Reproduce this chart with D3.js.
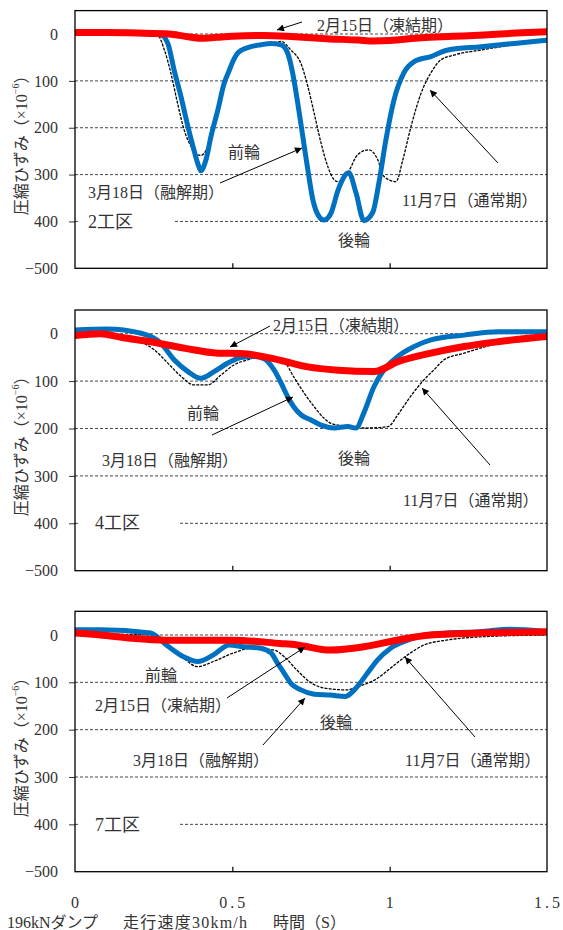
<!DOCTYPE html>
<html>
<head>
<meta charset="utf-8">
<script src="https://cdn.jsdelivr.net/npm/d3@7"></script>
<style>
  html, body { margin: 0; padding: 0; background: #fff; }
  svg text { font-family: "Liberation Serif", "Noto Sans CJK JP", serif; fill: #333; }
</style>
</head>
<body>
<svg id="chart" width="563" height="930"></svg>
<script>
// ---- data: time (s) vs. compressive strain (×10^-6), negative = compression ----
const timeTicks = [0, 0.5, 1, 1.5];
const timeTickLabels = ["0", "0.5", "1", "1.5"];
const strainTicks = [0, -100, -200, -300, -400, -500];
const strainTickLabels = ["0", "100", "200", "300", "400", "\u2212500"];
const seriesNames = ["2月15日（凍結期）", "3月18日（融解期）", "11月7日（通常期）"];
const zoneNames = ["2工区", "4工区", "7工区"];
const wheelNames = ["前輪", "後輪"];

// Zone 2
const zone2Feb = [[0,3],[0.1,3],[0.2,2],[0.3,0],[0.35,-5],[0.4,-9],[0.45,-7],[0.5,-5],[0.6,-3],[0.7,-6],[0.8,-10],[0.9,-13],[0.95,-15],[1.0,-14],[1.1,-8],[1.2,-5],[1.3,-2],[1.4,2],[1.5,5]];
const zone2Mar = [[0,2],[0.1,3],[0.2,1],[0.273,-2],[0.295,-20],[0.315,-77],[0.337,-134],[0.359,-198],[0.375,-240],[0.39,-276],[0.40,-292],[0.416,-269],[0.432,-219],[0.454,-162],[0.474,-105],[0.49,-78],[0.502,-58],[0.521,-38],[0.559,-27],[0.59,-23],[0.623,-20],[0.655,-23],[0.676,-41],[0.692,-84],[0.708,-148],[0.724,-219],[0.74,-290],[0.756,-354],[0.776,-390],[0.791,-397],[0.813,-383],[0.836,-333],[0.87,-296],[0.893,-339],[0.918,-398],[0.946,-381],[0.966,-317],[0.988,-226],[1.014,-140],[1.045,-83],[1.078,-59],[1.131,-48],[1.185,-34],[1.29,-27],[1.396,-20],[1.5,-13]];
const zone2Nov = [[0,0],[0.2,0],[0.263,-3],[0.284,-34],[0.305,-84],[0.326,-148],[0.347,-205],[0.369,-240],[0.39,-258],[0.40,-259],[0.411,-254],[0.426,-233],[0.448,-175],[0.474,-110],[0.496,-75],[0.521,-40],[0.56,-28],[0.6,-22],[0.634,-18],[0.655,-16],[0.686,-34],[0.718,-63],[0.74,-112],[0.76,-169],[0.782,-233],[0.804,-284],[0.82,-308],[0.836,-315],[0.867,-296],[0.899,-257],[0.934,-247],[0.962,-268],[0.982,-304],[1.02,-315],[1.042,-268],[1.068,-197],[1.1,-126],[1.131,-83],[1.163,-55],[1.204,-45],[1.29,-34],[1.396,-23],[1.5,-13]];

// Zone 4
const zone4Feb = [[0,-4],[0.08,0],[0.15,-8],[0.24,-17],[0.35,-31],[0.454,-41],[0.527,-42],[0.633,-53],[0.74,-70],[0.836,-77],[0.95,-80],[1.026,-59],[1.131,-41],[1.237,-27],[1.344,-17],[1.5,-6]];
const zone4Mar = [[0,8],[0.1,10],[0.21,1],[0.273,-20],[0.315,-55],[0.359,-80],[0.40,-94],[0.442,-80],[0.486,-62],[0.527,-50],[0.57,-48],[0.601,-53],[0.633,-77],[0.655,-104],[0.676,-133],[0.695,-154],[0.718,-171],[0.75,-182],[0.782,-193],[0.823,-199],[0.867,-196],[0.893,-199],[0.918,-167],[0.95,-112],[0.982,-76],[1.026,-48],[1.078,-27],[1.131,-13],[1.237,-3],[1.344,4],[1.5,4]];
const zone4Nov = [[0,0],[0.1,0],[0.18,-8],[0.21,-17],[0.252,-34],[0.295,-62],[0.337,-90],[0.378,-108],[0.422,-108],[0.464,-87],[0.505,-66],[0.549,-55],[0.6,-48],[0.665,-60],[0.695,-91],[0.728,-125],[0.76,-154],[0.791,-178],[0.813,-189],[0.867,-196],[0.931,-199],[0.995,-196],[1.026,-171],[1.058,-140],[1.1,-104],[1.141,-76],[1.173,-55],[1.237,-41],[1.344,-20],[1.5,0]];

// Zone 7
const zone7Feb = [[0,4],[0.08,0],[0.18,-7],[0.29,-11],[0.4,-11],[0.5,-11],[0.652,-18],[0.705,-21],[0.811,-32],[0.918,-25],[1.023,-11],[1.13,0],[1.287,4],[1.5,7]];
const zone7Mar = [[0,11],[0.08,11],[0.24,4],[0.29,-21],[0.345,-46],[0.39,-56],[0.44,-42],[0.49,-21],[0.535,-25],[0.59,-28],[0.623,-38],[0.644,-60],[0.665,-81],[0.686,-102],[0.718,-116],[0.76,-125],[0.811,-127],[0.859,-130],[0.897,-109],[0.929,-81],[0.961,-53],[1.003,-28],[1.057,-11],[1.11,0],[1.18,4],[1.287,7],[1.382,12],[1.5,7]];
const zone7Nov = [[0,5],[0.1,2],[0.24,0],[0.29,-18],[0.345,-49],[0.39,-67],[0.44,-56],[0.5,-39],[0.56,-28],[0.633,-32],[0.665,-46],[0.705,-74],[0.75,-101],[0.791,-112],[0.864,-116],[0.9,-109],[0.96,-92],[1.003,-70],[1.057,-42],[1.11,-21],[1.18,-11],[1.287,-4],[1.5,0]];

// ---- layout ----
const svg = d3.select("#chart");
const plotLeft = 75, plotRight = 547;
const x = d3.scaleLinear().domain([0, 1.5]).range([plotLeft, plotRight]);

const panels = [
  { top: 10.6, bottom: 268.3, zone: 0, feb: zone2Feb, mar: zone2Mar, nov: zone2Nov,
    zoneLabel: { x: 88, y: 222, maskTo: 173 },
    texts: [
      { t: seriesNames[0], x: 317, y: 25 },
      { t: wheelNames[0], x: 228, y: 152 },
      { t: seriesNames[1], x: 88, y: 192 },
      { t: wheelNames[1], x: 338, y: 240 },
      { t: seriesNames[2], x: 402, y: 200 }
    ],
    arrows: [[302, 22, 277, 30], [220, 183, 302, 148], [498, 163, 430, 90]] },
  { top: 310, bottom: 570.7, zone: 1, feb: zone4Feb, mar: zone4Mar, nov: zone4Nov,
    zoneLabel: { x: 95, y: 523, maskTo: 180 },
    texts: [
      { t: seriesNames[0], x: 273, y: 325 },
      { t: wheelNames[0], x: 187, y: 413 },
      { t: seriesNames[1], x: 102, y: 460 },
      { t: wheelNames[1], x: 338, y: 458 },
      { t: seriesNames[2], x: 403, y: 500 }
    ],
    arrows: [[270, 326, 230, 347], [212, 435, 293, 397], [490, 465, 422, 388]] },
  { top: 611.3, bottom: 871.7, zone: 2, feb: zone7Feb, mar: zone7Mar, nov: zone7Nov,
    zoneLabel: { x: 95, y: 825, maskTo: 180 },
    texts: [
      { t: wheelNames[0], x: 145, y: 675 },
      { t: seriesNames[0], x: 95, y: 705 },
      { t: seriesNames[1], x: 133, y: 760 },
      { t: wheelNames[1], x: 320, y: 722 },
      { t: seriesNames[2], x: 405, y: 760 }
    ],
    arrows: [[227, 698, 305, 647], [263, 745, 305, 698], [475, 737, 405, 657]] }
];

const defs = svg.append("defs");
defs.append("marker")
  .attr("id", "arrowHead")
  .attr("viewBox", "0 0 10 10")
  .attr("refX", 10).attr("refY", 5)
  .attr("markerWidth", 9).attr("markerHeight", 7)
  .attr("markerUnits", "userSpaceOnUse")
  .attr("orient", "auto")
  .append("path").attr("d", "M0,0 L10,5 L0,10 Z").attr("fill", "#000");

panels.forEach((p, i) => {
  const y = d3.scaleLinear().domain([50, -500]).range([p.top, p.bottom]);
  const g = svg.append("g");

  defs.append("clipPath").attr("id", "clip" + i)
    .append("rect").attr("x", plotLeft).attr("y", p.top)
    .attr("width", plotRight - plotLeft).attr("height", p.bottom - p.top);

  // dashed gridlines
  g.append("g").selectAll("line")
    .data(strainTicks.filter(v => v > -500))
    .join("line")
    .attr("x1", plotLeft).attr("x2", plotRight)
    .attr("y1", d => y(d)).attr("y2", d => y(d))
    .attr("stroke", "#333").attr("stroke-width", 0.9)
    .attr("stroke-dasharray", "3,2");

  // left axis
  const yAxis = d3.axisLeft(y)
    .tickValues(strainTicks)
    .tickFormat((d, k) => strainTickLabels[k])
    .tickSize(6).tickSizeOuter(0).tickPadding(11);
  const ya = g.append("g").attr("transform", `translate(${plotLeft},0)`).call(yAxis);
  ya.select(".domain").remove();
  ya.selectAll(".tick line")
    .attr("stroke", "#333")
    .attr("display", d => (d === 0 || d === -500) ? "none" : null);
  ya.selectAll(".tick text")
    .attr("font-size", 16).attr("fill", "#333")
    .style("font-family", '"Liberation Serif", serif');

  // bottom axis (inner ticks)
  const xAxis = d3.axisBottom(x)
    .tickValues(timeTicks.slice(1, 3))
    .tickSize(-5).tickSizeOuter(0).tickFormat("");
  const xa = g.append("g").attr("transform", `translate(0,${p.bottom})`).call(xAxis);
  xa.select(".domain").remove();
  xa.selectAll(".tick line").attr("stroke", "#000").attr("stroke-width", 1.2);

  // zone label over a white patch
  g.append("rect")
    .attr("x", 80).attr("y", p.zoneLabel.y - 11)
    .attr("width", p.zoneLabel.maskTo - 80).attr("height", 22)
    .attr("fill", "#fff");
  g.append("text")
    .attr("x", p.zoneLabel.x).attr("y", p.zoneLabel.y)
    .attr("dominant-baseline", "central")
    .attr("font-size", 18)
    .text(zoneNames[p.zone]);

  // curves
  const line = d3.line()
    .x(d => x(d[0])).y(d => y(d[1]))
    .curve(d3.curveMonotoneX);
  const curves = g.append("g").attr("clip-path", `url(#clip${i})`);
  curves.append("path").datum(p.nov)
    .attr("d", line).attr("fill", "none")
    .attr("stroke", "#000").attr("stroke-width", 1.3)
    .attr("stroke-dasharray", "3,1.2");
  curves.append("path").datum(p.mar)
    .attr("d", line).attr("fill", "none")
    .attr("stroke", "#0070C0").attr("stroke-width", 5)
    .attr("stroke-linejoin", "round").attr("stroke-linecap", "round");
  curves.append("path").datum(p.feb)
    .attr("d", line).attr("fill", "none")
    .attr("stroke", "#FF0000").attr("stroke-width", 7)
    .attr("stroke-linejoin", "round").attr("stroke-linecap", "round");

  // annotations
  g.append("g").selectAll("text")
    .data(p.texts)
    .join("text")
    .attr("x", d => d.x).attr("y", d => d.y)
    .attr("dominant-baseline", "central")
    .attr("font-size", 16)
    .text(d => d.t);
  g.append("g").selectAll("line")
    .data(p.arrows)
    .join("line")
    .attr("x1", d => d[0]).attr("y1", d => d[1])
    .attr("x2", d => d[2]).attr("y2", d => d[3])
    .attr("stroke", "#000").attr("stroke-width", 1)
    .attr("marker-end", "url(#arrowHead)");

  // frame
  g.append("rect")
    .attr("x", plotLeft).attr("y", p.top)
    .attr("width", plotRight - plotLeft).attr("height", p.bottom - p.top)
    .attr("fill", "none").attr("stroke", "#000").attr("stroke-width", 1.3);

  // y-axis title
  const cy = (p.top + p.bottom) / 2 + 2;
  const title = g.append("text")
    .attr("transform", `translate(21,${cy}) rotate(-90)`)
    .attr("text-anchor", "middle")
    .attr("dominant-baseline", "central")
    .attr("font-size", 16);
  title.append("tspan").text("圧縮ひずみ（×10");
  title.append("tspan").attr("font-size", 10).attr("dy", -6).text("\u2212" + "6");
  title.append("tspan").attr("dy", 6).text("）");
});

// time tick labels under the last panel
svg.append("g").selectAll("text")
  .data(timeTicks)
  .join("text")
  .attr("x", d => x(d) + 1.5).attr("y", 902)
  .attr("text-anchor", "middle")
  .attr("dominant-baseline", "central")
  .attr("font-size", 16)
  .attr("letter-spacing", 3)
  .text((d, k) => timeTickLabels[k]);

// footer caption
const caption = [
  { t: "196kNダンプ", x: 7 },
  { t: "走行速度30km/h", x: 123, len: 124 },
  { t: "時間（S）", x: 273 }
];
svg.append("g").selectAll("text")
  .data(caption)
  .join("text")
  .attr("x", d => d.x).attr("y", 922)
  .attr("dominant-baseline", "central")
  .attr("font-size", 16)
  .attr("textLength", d => d.len || null)
  .attr("lengthAdjust", "spacing")
  .text(d => d.t);
</script>
</body>
</html>
